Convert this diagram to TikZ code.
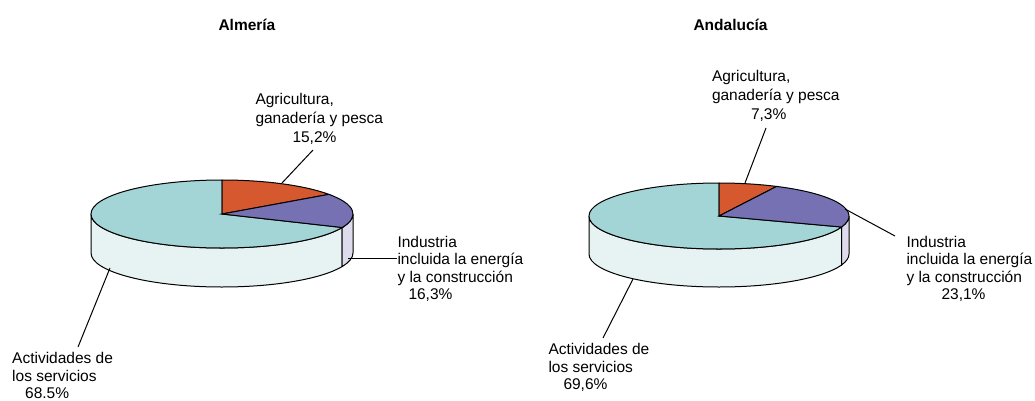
\documentclass[tikz,border=0pt]{standalone}
\usepackage{fontspec}
\setmainfont{Liberation Sans}
\definecolor{agr}{RGB}{214,88,46}
\definecolor{ind}{RGB}{118,113,179}
\definecolor{ser}{RGB}{164,213,214}
\definecolor{serside}{RGB}{231,243,243}
\definecolor{indside}{RGB}{221,219,236}
\tikzset{lbl/.style={anchor=north west,inner sep=0pt,align=left,font=\fontsize{15.5}{17.5}\selectfont},
  lblhi/.style={lbl,font=\fontsize{15.5}{19}\selectfont},
  ttl/.style={anchor=base west,inner sep=0pt,font=\bfseries\fontsize{15.5}{17.5}\selectfont}}

\begin{document}
\begin{tikzpicture}[x=1pt,y=1pt,line width=1pt]
\useasboundingbox (0,0) rectangle (1035,400);
\foreach \n/\cx/\cy/\rx/\ry/\d/\a/\b in {alm/222/186/131/34/39/35.3/-23.4,and/719/184/130/33/38/63.7/-19.5}{
  \coordinate (\n) at (\cx,\cy);
  \filldraw[fill=serside] (\n) ++(180:{\rx} and {\ry}) -- ++(0,-\d)
    arc[start angle=180,end angle=360+\b,x radius=\rx,y radius=\ry] -- ++(0,\d)
    arc[start angle=360+\b,end angle=180,x radius=\rx,y radius=\ry] -- cycle;
  \filldraw[fill=indside] (\n) ++(\b:{\rx} and {\ry}) -- ++(0,-\d)
    arc[start angle=\b,end angle=0,x radius=\rx,y radius=\ry] -- ++(0,\d)
    arc[start angle=0,end angle=\b,x radius=\rx,y radius=\ry] -- cycle;
  \filldraw[fill=ser] (\n) -- ++(90:{\rx} and {\ry})
    arc[start angle=90,end angle=360+\b,x radius=\rx,y radius=\ry] -- cycle;
  \filldraw[fill=agr] (\n) -- ++(\a:{\rx} and {\ry})
    arc[start angle=\a,end angle=90,x radius=\rx,y radius=\ry] -- cycle;
  \filldraw[fill=ind] (\n) -- ++(\b:{\rx} and {\ry})
    arc[start angle=\b,end angle=\a,x radius=\rx,y radius=\ry] -- cycle;
}

\node[ttl] (alm-ttl) at (218,370) {Almería};
\node[ttl] (and-ttl) at (693,370) {Andalucía};

\node[lblhi] (alm-agr) at (255,307) {Agricultura,\\ganadería y pesca\\\hspace*{37pt}15,2\%};
\node[lbl] (alm-ind) at (397,164.5) {Industria\\incluida la energía\\y la construcción\\\hspace*{11pt}16,3\%};
\node[lbl] (alm-ser) at (11.7,48.2) {Actividades de\\los servicios\\\hspace*{13pt}68.5\%};
\node[lblhi] (and-agr) at (711.5,330.5) {Agricultura,\\ganadería y pesca\\\hspace*{39pt}7,3\%};
\node[lbl] (and-ind) at (906,164.5) {Industria\\incluida la energía\\y la construcción\\\hspace*{35pt}23,1\%};
\node[lbl] (and-ser) at (548,57.2) {Actividades de\\los servicios\\\hspace*{15pt}69,6\%};

\coordinate (alm-agr-a) at (282,217);
\coordinate (alm-agr-b) at (313,250);
\coordinate (alm-ind-a) at (348,142);
\coordinate (alm-ind-b) at (397,142);
\coordinate (alm-ser-a) at (110,132);
\coordinate (alm-ser-b) at (78,53);
\coordinate (and-agr-a) at (745,217);
\coordinate (and-agr-b) at (766,272);
\coordinate (and-ind-a) at (845,191);
\coordinate (and-ind-b) at (895,164);
\coordinate (and-ser-a) at (633,121);
\coordinate (and-ser-b) at (603,62);
\foreach \l in {alm-agr,alm-ind,alm-ser,and-agr,and-ind,and-ser}
  \draw (\l-a) -- (\l-b);
\end{tikzpicture}
\end{document}
